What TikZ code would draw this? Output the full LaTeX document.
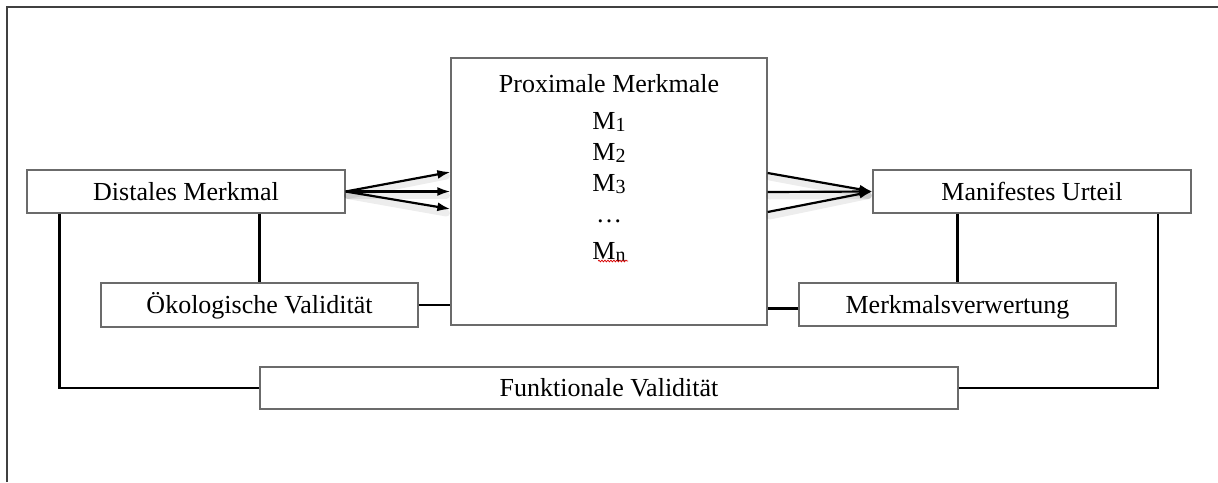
\documentclass[tikz,border=0pt]{standalone}
\usepackage{fontspec}
\setmainfont{Liberation Serif}
\usetikzlibrary{arrows.meta,calc,decorations.pathmorphing}
% index set a little below the baseline
\newcommand{\cueidx}[1]{\raisebox{-2.5pt}{\fontsize{20}{20}\selectfont #1}}
\begin{document}
\begin{tikzpicture}[x=1pt,y=-1pt,
  box/.style={draw=black!58,line width=1.3pt,rectangle,inner sep=0pt,
    text height=20pt,text depth=3pt,
    font=\fontsize{26}{31}\selectfont},
  link/.style={draw=black,line width=2.3pt},
  cue/.style={draw=black,line width=2.2pt,-{Latex[length=13pt,width=9pt]}},
  haze/.style={draw=black,line width=7pt,opacity=0.07,line cap=round}]
\useasboundingbox (0,0) rectangle (1218,482);
\fill[white] (0,0) rectangle (1218,482);
% outer frame (left and top edges)
\coordinate (f0) at (7,482);
\coordinate (f1) at (7,7);
\coordinate (f2) at (1218,7);
\draw[black!75,line width=2.4pt] (f0) -- (f1) -- (f2);

% boxes
\node[box,minimum width=318pt,minimum height=43pt] (dist) at (186,191.5) {Distales Merkmal};
\node[box,minimum width=316pt,minimum height=267pt] (prox) at (609,191.5) {};
\node[box,minimum width=318pt,minimum height=43pt] (mani) at (1032,191.5) {Manifestes Urteil};
\node[box,minimum width=317pt,minimum height=44pt] (oeko) at (259.5,305) {Ökologische Validität};
\node[box,minimum width=317pt,minimum height=43pt] (merk) at (957.5,304.5) {Merkmalsverwertung};
\node[box,minimum width=698pt,minimum height=42pt] (funk) at (609,388) {Funktionale Validität};

% list of proximal cues
\node[anchor=north,align=center,inner sep=0pt,
  font=\fontsize{26}{31}\selectfont] (proxtext) at (609,74)
  {Proximale Merkmale\\[6pt]
   M\cueidx{1}\\ M\cueidx{2}\\ M\cueidx{3}\\ …\\[6pt]
   M\cueidx{n}};
\coordinate (sq0) at (598,261);
\coordinate (sq1) at (628,261);
\draw[red!85!black,line width=0.7pt,decorate,
  decoration={snake,amplitude=0.9pt,segment length=3pt}] (sq0) -- (sq1);

% arrow end points on the proximal box
\coordinate (pl1) at (prox.west |- 0,172);
\coordinate (pl2) at (prox.west |- 0,191.5);
\coordinate (pl3) at (prox.west |- 0,209);
\coordinate (pr1) at (prox.east |- 0,173);
\coordinate (pr2) at (prox.east |- 0,192);
\coordinate (pr3) at (prox.east |- 0,212);

% soft shadows under the arrows
\foreach \t in {pl1,pl2,pl3} \draw[haze] ($(dist.east)+(2,4)$) -- ($(\t)+(-4,4)$);
\foreach \s in {pr1,pr2,pr3} \draw[haze] ($(\s)+(2,4)$) -- ($(mani.west)+(-4,4)$);

% arrows
\foreach \t in {pl1,pl2,pl3} \draw[cue] (dist.east) -- (\t);
\foreach \s in {pr1,pr2,pr3} \draw[cue] (\s) -- (mani.west);

% validity connectors
\draw[link] (oeko.north |- dist.south) -- (oeko.north);
\draw[link] (merk.north |- mani.south) -- (merk.north);
\draw[link] (oeko.east) -- (oeko.east -| prox.west);
\draw[link] ([yshift=-4pt]merk.west) -- ([yshift=-4pt]merk.west -| prox.east);
\draw[link] ([xshift=33pt]dist.south west) |- (funk.west);
\draw[link] ([xshift=-34pt]mani.south east) |- (funk.east);
\end{tikzpicture}
\end{document}
